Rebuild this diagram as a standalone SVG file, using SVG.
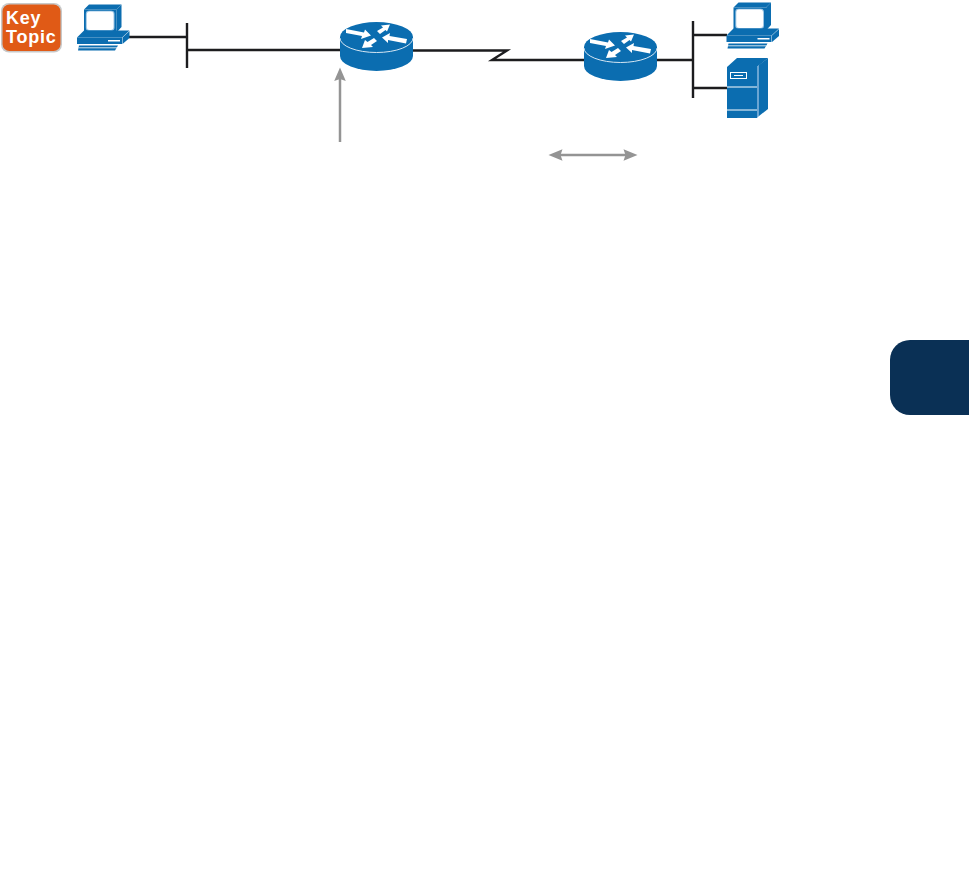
<svg xmlns="http://www.w3.org/2000/svg" width="969" height="874" viewBox="0 0 969 874">
<style>
.wire{fill:none;stroke:#1c1c1e;stroke-width:2.400}
.gray{fill:none;stroke:#949494;stroke-width:2.500}
.ah{fill:#949494}
.blue{fill:#0b6db0}
.lite{fill:#6aa5d3}
.wl{fill:#fff}
.edge{fill:none;stroke:#d5e6f3;stroke-width:1}
.kt{font-family:"Liberation Sans",Arial,sans-serif;font-weight:700;font-size:18px;letter-spacing:.8px;fill:#fff}
</style>
<defs>
<g id="pc">
<path class="blue" d="M84 9.500L89 4.500H121.500L116.500 9.500Z"/>
<path class="blue" d="M116.500 9.500L121.500 4.500V27L116.500 32.500Z"/>
<rect class="blue" x="84" y="9.500" width="32.500" height="23"/>
<rect x="85.800" y="10.800" width="28.700" height="20" rx="3" fill="#9cc5e4"/>
<rect x="86.800" y="11.600" width="26.700" height="18.400" rx="3" fill="#fff"/>
<path class="blue" d="M77 37.500L84 30.500H129.500L122 37.500Z"/>
<path class="blue" d="M122.500 37.500L129.500 31V38L122.500 44Z"/>
<rect class="blue" x="77" y="37.500" width="45" height="6.500"/>
<rect x="108" y="40" width="12" height="1.500" fill="#fff"/>
<path class="blue" d="M79 45.500H118L115 50.500H78Z"/>
<path d="M78.500 47.800H117" stroke="#fff" stroke-width=".8" fill="none"/>
</g>
<g id="router">
<path class="blue" d="M0 0V19A36.500 15 0 0 0 73 19V0Z"/>
<ellipse class="blue" cx="36.500" cy="0" rx="36.500" ry="15"/>
<path class="edge" d="M0 1A36.500 14.500 0 0 0 73 1"/>
<path class="wl" d="M6 -8L24 -4.500L25 -7.500L31 -1.500L21 2L22 -1L6 -4Z"/>
<path class="wl" d="M37 -6L43 -9.500L41 -11.500L50 -12.500L47 -5.500L45.500 -7L40 -3Z"/>
<path class="wl" d="M42 0.500L50 -4L49.500 -1L67 2L66 6.500L48 3L48 6Z"/>
<path class="wl" d="M22 11L25 3L27.500 5L34 1L37 4L31 8L33 10Z"/>
</g>
</defs>
<g id="key-topic">
<rect x="1" y="3" width="61" height="49.500" rx="8" fill="#c8c8c8"/>
<rect x="2.500" y="4.500" width="58" height="46.500" rx="7" fill="#e05a16"/>
<text class="kt" x="6" y="24">Key</text>
<text class="kt" x="6" y="43">Topic</text>
</g>
<g id="connectors">
<path class="wire" d="M129 37H187M187 23V68M187 50H340"/>
<path class="wire" d="M413 50.500H507L492 60H584"/>
<path class="wire" d="M657 60H693M693 21V98M693 35H727M693 88H727"/>
<path class="gray" d="M340 142V78"/>
<path class="ah" d="M340 67.500L345.800 81L340 79L334.200 81Z"/>
<path class="gray" d="M558 155H628"/>
<path class="ah" d="M548.500 155L562.500 149.200L560.500 155L562.500 160.800Z"/>
<path class="ah" d="M637.500 155L623.500 149.200L625.500 155L623.500 160.800Z"/>
</g>
<g id="pc-left"><use href="#pc"/></g>
<g id="router-1"><use href="#router" x="340" y="37"/></g>
<g id="router-2"><use href="#router" x="584" y="47"/></g>
<g id="pc-right"><use href="#pc" x="649.500" y="-2"/></g>
<g id="server">
<path class="blue" d="M727 67L737 58H768L757 67Z"/>
<rect class="blue" x="727" y="67" width="30" height="51"/>
<path class="lite" d="M757 67L759 65V116L757 118Z"/>
<path class="blue" d="M759 65L768 58V109L759 116Z"/>
<rect x="730.500" y="72.500" width="16" height="6" fill="none" stroke="#fff" stroke-width="1"/>
<path d="M734 75.500H743M727 87H757M727 110H757" stroke="#fff" stroke-width="1" fill="none"/>
</g>
<g id="chapter-tab">
<path d="M969 340H910A20 20 0 0 0 890 360V395A20 20 0 0 0 910 415H969Z" fill="#0a3055"/>
</g>
</svg>
